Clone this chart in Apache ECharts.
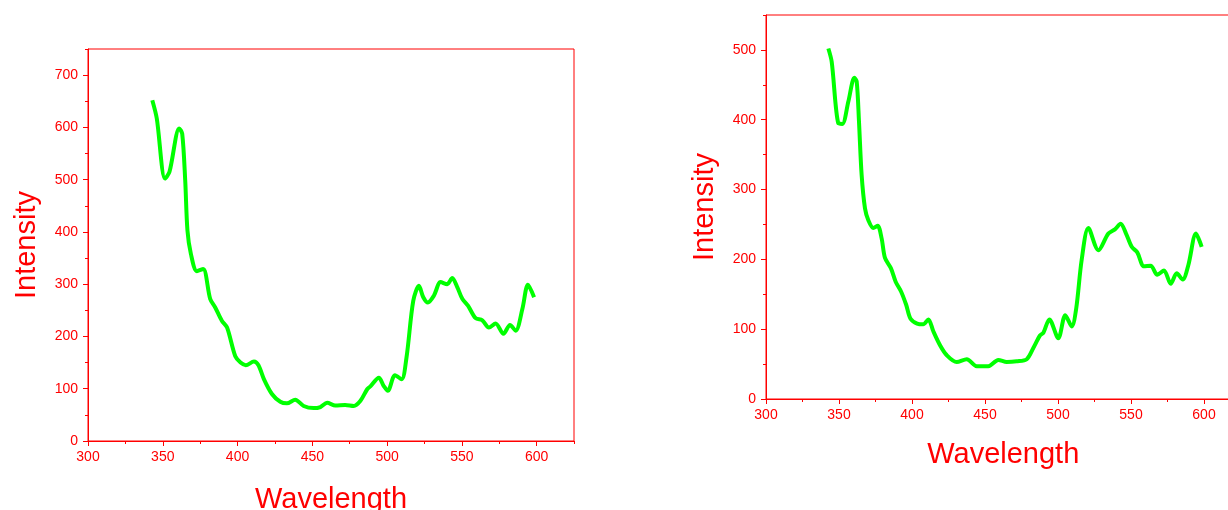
<!DOCTYPE html>
<html>
<head>
<meta charset="utf-8">
<title>Wavelength / Intensity</title>
<script src="https://cdn.jsdelivr.net/npm/echarts@6/dist/echarts.min.js"></script>
<style>
    html, body { margin: 0; padding: 0; background: #fff; }
    #chart { width: 1228px; height: 510px; }
</style>
</head>
<body>
<div id="chart"></div>
<script>
// left spectrum
var wavelengthA = [343, 346, 351.5, 354.5, 361, 363, 365, 366.5, 368.8, 372.8, 377, 381.7, 385, 389.5, 393,
    398.5, 402, 405.5, 411, 414, 417.7, 423, 428.6, 433, 438.6, 444.2, 450.9, 455.4, 459.9, 465.4, 472,
    477.7, 482.2, 486.7, 489, 494.5, 497.8, 500.5, 505.3, 509.7, 513, 517.5, 521.3, 524.2, 527.3, 531.3,
    535.8, 540.2, 543.6, 547, 550.3, 554.1, 559.2, 563.7, 568.1, 572.6, 577.8, 582.2, 586, 590.5, 594.2, 598.3];
var intensityA = [652, 617, 502, 515, 598, 588, 499, 403, 358, 325, 329, 272, 256, 230, 217,
    162, 150, 145, 152, 145, 118, 90, 75, 72, 79, 67, 63, 65, 73, 68, 69,
    67, 77, 99, 105, 121, 105, 96, 126, 118, 160, 268, 297, 275, 265, 278,
    304, 300, 312, 294, 272, 259, 235, 231, 217, 225, 205, 222, 211, 253, 299, 275];

// right spectrum
var wavelengthB = [342.7, 345, 349.5, 352.3, 356.4, 360.5, 362.1, 363.7, 365.5, 367.8, 370.1, 373.5, 376.5,
    379.2, 381.5, 385.6, 388.8, 392.5, 396, 399, 403.5, 407.7, 411.2, 414.6, 419.2, 423.7, 430.6, 437.5,
    444.3, 452.3, 459.1, 464.9, 471.7, 478.6, 483.1, 487.7, 490, 494.1, 500.2, 505, 509.4, 512.5, 516.2,
    520.8, 527.7, 534.5, 539, 542.9, 546.6, 550.5, 554.3, 558.9, 563.5, 568, 572.6, 577.2, 581.3, 585.4,
    589.3, 594.5, 598.4];
var intensityB = [502, 483, 395, 394, 426, 460, 455, 397, 321, 273, 256, 245, 248,
    230, 202, 187, 168, 154, 135, 115, 108, 107, 114, 97, 77, 63, 53, 57,
    47, 47, 56, 53, 54, 57, 73, 91, 95, 114, 87, 120, 104, 130, 199,
    245, 213, 237, 243, 251, 237, 218, 210, 190, 191, 178, 184, 165, 180, 171,
    192, 237, 218];

// tick labels
var xTicks = [300, 350, 400, 450, 500, 550, 600];
var yTicksA = [0, 100, 200, 300, 400, 500, 600, 700];
var yTicksB = [0, 100, 200, 300, 400, 500];

var RED = '#ff0000';
var GREEN = '#00ff00';
var FONT = '"Liberation Sans", Arial, sans-serif';

function pairs(xs, ys) {
    return xs.map(function (x, i) { return [x, ys[i]]; });
}

function majorAxis(grid, pos, min, max, ticks, name, gap) {
    return {
        type: 'value',
        gridIndex: grid,
        position: pos,
        min: min,
        max: max,
        name: name,
        nameLocation: 'middle',
        nameGap: gap,
        nameRotate: pos === 'left' ? 90 : 0,
        nameTextStyle: { color: RED, fontSize: 29, fontFamily: FONT },
        axisLine: { show: true, onZero: false, lineStyle: { color: RED, width: 1 } },
        axisTick: { show: true, length: 5, customValues: ticks, lineStyle: { color: RED } },
        axisLabel: { customValues: ticks, color: RED, fontSize: 14, fontFamily: FONT, margin: pos === 'left' ? 10 : 9 },
        splitLine: { show: false }
    };
}

function minorAxis(grid, pos, min, max, step) {
    return {
        type: 'value',
        gridIndex: grid,
        position: pos,
        min: min,
        max: max,
        interval: step,
        axisLine: { show: false, onZero: false },
        axisTick: { show: true, length: 3, lineStyle: { color: RED } },
        axisLabel: { show: false },
        splitLine: { show: false }
    };
}

var chart = echarts.init(document.getElementById('chart'));

var option = {
    backgroundColor: '#fff',
    animation: false,
    grid: [
        { left: 88, top: 49, width: 486, height: 392, outerBoundsMode: 'none', show: true, borderColor: RED, borderWidth: 1, backgroundColor: 'transparent' },
        // right plot runs past the window edge, as in the original
        { left: 766, top: 15, width: 474.5, height: 384, outerBoundsMode: 'none', show: true, borderColor: RED, borderWidth: 1, backgroundColor: 'transparent' }
    ],
    xAxis: [
        majorAxis(0, 'bottom', 300, 625, xTicks, 'Wavelength', 44),
        minorAxis(0, 'bottom', 300, 625, 25),
        majorAxis(1, 'bottom', 300, 625, xTicks, 'Wavelength', 41),
        minorAxis(1, 'bottom', 300, 625, 25)
    ],
    yAxis: [
        majorAxis(0, 'left', 0, 750, yTicksA, 'Intensity', 47),
        minorAxis(0, 'left', 0, 750, 50),
        majorAxis(1, 'left', 0, 550, yTicksB, 'Intensity', 47),
        minorAxis(1, 'left', 0, 550, 50)
    ],
    series: [
        {
            type: 'line',
            xAxisIndex: 0,
            yAxisIndex: 0,
            data: pairs(wavelengthA, intensityA),
            smooth: 0.3,
            showSymbol: false,
            lineStyle: { color: GREEN, width: 4 }
        },
        {
            type: 'line',
            xAxisIndex: 2,
            yAxisIndex: 2,
            data: pairs(wavelengthB, intensityB),
            smooth: 0.3,
            showSymbol: false,
            lineStyle: { color: GREEN, width: 4 }
        }
    ]
};

chart.setOption(option);
</script>
</body>
</html>
